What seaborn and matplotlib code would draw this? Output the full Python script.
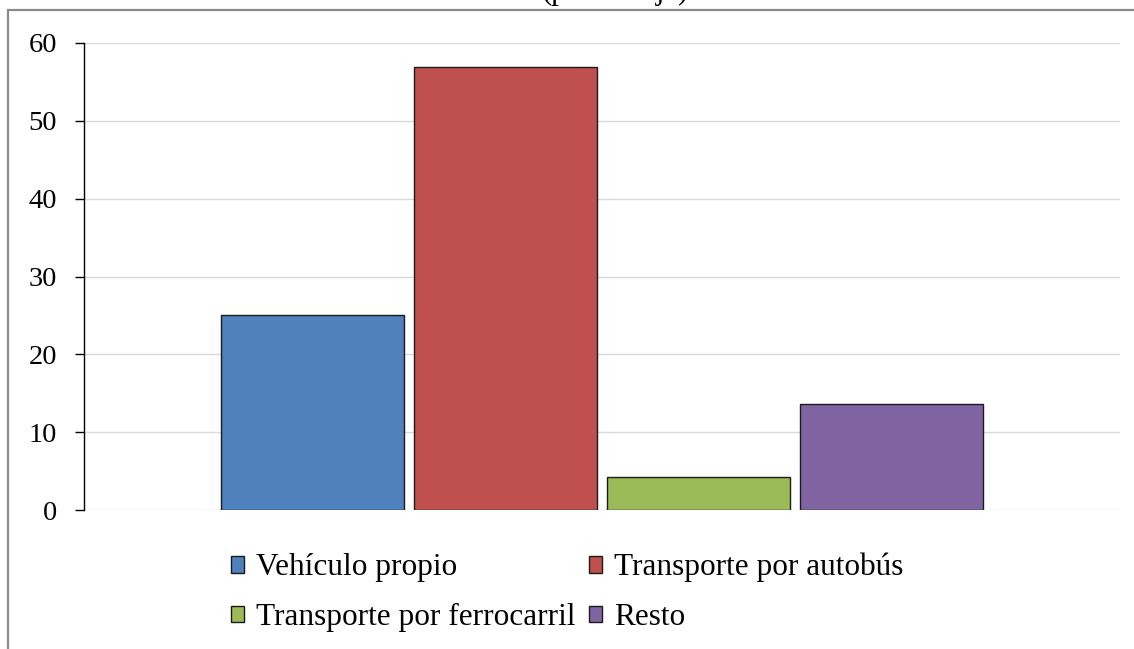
import matplotlib
matplotlib.use("Agg")
import matplotlib.pyplot as plt
from matplotlib.patches import Rectangle
import pandas as pd
import seaborn as sns

# Data (percent)
modos = ["Vehículo propio", "Transporte por autobús", "Transporte por ferrocarril", "Resto"]
valores = [25.1, 56.9, 4.2, 13.6]
colores = ["#4F81BD", "#C0504D", "#9BBB59", "#8064A2"]
yticks = [0, 10, 20, 30, 40, 50, 60]

df = pd.DataFrame({"grupo": ["total"] * len(modos), "modo": modos, "valor": valores})

sns.set_style("white")
plt.rcParams["font.family"] = ["Liberation Serif", "DejaVu Serif"]
plt.rcParams["text.color"] = "black"

fig = plt.figure(figsize=(11.34, 6.49), dpi=100)
ax = fig.add_axes([84 / 1134, 1 - 510 / 649, (1120 - 84) / 1134, (510 - 43) / 649])

sns.barplot(data=df, x="grupo", y="valor", hue="modo", hue_order=modos,
            palette=colores, width=0.745, gap=0.05, edgecolor="#1a1a1a",
            linewidth=1.0, saturation=1, ax=ax)

ax.set_xlim(-0.5, 0.5)
ax.set_ylim(0, 60)
ax.set_yticks(yticks)
ax.set_xticks([])
ax.set_xlabel("")
ax.set_ylabel("")
ax.yaxis.grid(True, color="#d9d9d9", linewidth=1.0)
ax.set_axisbelow(True)
for s in ["top", "right", "bottom"]:
    ax.spines[s].set_visible(False)
ax.spines["left"].set_color("black")
ax.spines["left"].set_linewidth(1.0)
ax.tick_params(axis="y", left=True, direction="out", length=6.5, width=1.0,
               color="black", pad=13, labelsize=20.5, labelcolor="black")

# legend in two rows, below the plot
handles, labels = ax.get_legend_handles_labels()
ax.get_legend().remove()
order = [0, 2, 1, 3]
fig.legend([handles[i] for i in order], [labels[i] for i in order],
           loc="upper left", bbox_to_anchor=(231 / 1134, 1 - 553 / 649),
           ncol=2, frameon=False, fontsize=22.5, handlelength=0.42,
           handleheight=0.45, handletextpad=0.37, columnspacing=0.45,
           labelspacing=0.66, borderpad=0, borderaxespad=0)

# chart area frame (cut off at right and bottom) and clipped title
fig.patches.append(Rectangle((8 / 1134, -0.1), 1.2, 1 - 10 / 649 + 0.1,
                             transform=fig.transFigure, fill=False,
                             edgecolor="#8a8a8a", linewidth=1.6))
fig.text(615 / 1134, 1 + 1 / 649, "(porcentaje)", ha="center", va="baseline",
         fontsize=22)

fig.savefig("out.png", dpi=100)
